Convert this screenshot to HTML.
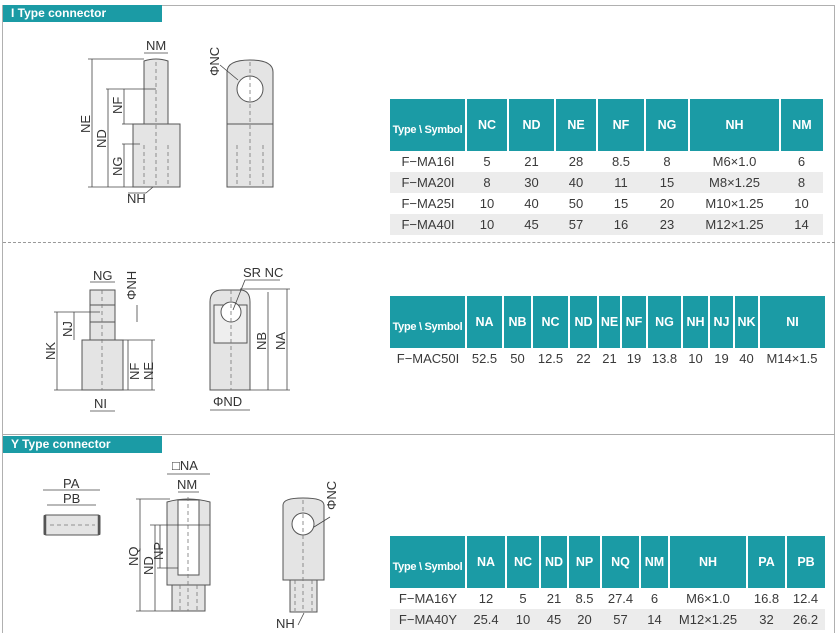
<!DOCTYPE html>
<html style="height:633px;overflow:hidden"><head><meta charset="utf-8"><style>
body{margin:0;width:840px;height:633px;background:#fff;position:relative;overflow:hidden;font-family:"Liberation Sans",sans-serif}
.frame{position:absolute;left:2px;top:5px;width:833px;height:628px;border:1px solid #b0b0b0;border-bottom:none;box-sizing:border-box}
.hdr{position:absolute;left:3px;width:159px;height:17px;background:#1b9ba5;color:#fff;font-weight:bold;font-size:12px;line-height:17px;padding-left:8px;box-sizing:border-box}
table{position:absolute;border-collapse:collapse;table-layout:fixed;font-size:13px;color:#3a3a3a}
th{background:#1b9ba5;color:#fff;font-weight:bold;font-size:12.5px;height:42px;padding:0;border-left:2px solid #fff;text-align:center;vertical-align:middle}
th:first-child{border-left:none;font-size:11px;letter-spacing:-0.3px;padding-top:10px}
td{text-align:center;padding:0;height:21px}
tr.g td{background:#ececec}
svg{position:absolute;left:0;top:0}
</style></head><body>
<div class="frame"></div>
<div style="position:absolute;left:3px;top:242px;width:832px;border-top:1px dashed #999"></div>
<div style="position:absolute;left:3px;top:434px;width:832px;border-top:1px solid #aaa"></div>
<div class="hdr" style="top:5px">I Type connector</div>
<div class="hdr" style="top:436px">Y Type connector</div>

<table style="left:390px;top:99px;width:433px">
<colgroup><col style="width:76px"><col style="width:42px"><col style="width:47px"><col style="width:42px"><col style="width:48px"><col style="width:44px"><col style="width:91px"><col style="width:43px"></colgroup>
<tr><th>Type \ Symbol</th><th>NC</th><th>ND</th><th>NE</th><th>NF</th><th>NG</th><th>NH</th><th>NM</th></tr>
<tr><td>F−MA16I</td><td>5</td><td>21</td><td>28</td><td>8.5</td><td>8</td><td>M6×1.0</td><td>6</td></tr>
<tr class="g"><td>F−MA20I</td><td>8</td><td>30</td><td>40</td><td>11</td><td>15</td><td>M8×1.25</td><td>8</td></tr>
<tr><td>F−MA25I</td><td>10</td><td>40</td><td>50</td><td>15</td><td>20</td><td>M10×1.25</td><td>10</td></tr>
<tr class="g"><td>F−MA40I</td><td>10</td><td>45</td><td>57</td><td>16</td><td>23</td><td>M12×1.25</td><td>14</td></tr>
</table>

<table style="left:390px;top:296px;width:435px">
<colgroup><col style="width:76px"><col style="width:37px"><col style="width:29px"><col style="width:37px"><col style="width:29px"><col style="width:23px"><col style="width:26px"><col style="width:35px"><col style="width:27px"><col style="width:25px"><col style="width:25px"><col style="width:66px"></colgroup>
<tr><th>Type \ Symbol</th><th>NA</th><th>NB</th><th>NC</th><th>ND</th><th>NE</th><th>NF</th><th>NG</th><th>NH</th><th>NJ</th><th>NK</th><th>NI</th></tr>
<tr><td>F−MAC50I</td><td>52.5</td><td>50</td><td>12.5</td><td>22</td><td>21</td><td>19</td><td>13.8</td><td>10</td><td>19</td><td>40</td><td>M14×1.5</td></tr>
</table>

<table style="left:390px;top:536px;width:435px">
<colgroup><col style="width:76px"><col style="width:40px"><col style="width:34px"><col style="width:28px"><col style="width:33px"><col style="width:39px"><col style="width:29px"><col style="width:78px"><col style="width:39px"><col style="width:39px"></colgroup>
<tr><th>Type \ Symbol</th><th>NA</th><th>NC</th><th>ND</th><th>NP</th><th>NQ</th><th>NM</th><th>NH</th><th>PA</th><th>PB</th></tr>
<tr><td>F−MA16Y</td><td>12</td><td>5</td><td>21</td><td>8.5</td><td>27.4</td><td>6</td><td>M6×1.0</td><td>16.8</td><td>12.4</td></tr>
<tr class="g"><td>F−MA40Y</td><td>25.4</td><td>10</td><td>45</td><td>20</td><td>57</td><td>14</td><td>M12×1.25</td><td>32</td><td>26.2</td></tr>
</table>

<svg width="840" height="633" viewBox="0 0 840 633" font-family="Liberation Sans, sans-serif" font-size="13" fill="#333">
<g stroke="#555" stroke-width="1" fill="#e4e4e4">
<path d="M144 124 V61 Q156 57 168 61 V124 Z"/>
<rect x="133" y="124" width="47" height="63"/>
<path d="M227 187 V72 Q227 60 250 60 Q273 60 273 72 V187 Z"/>
<circle cx="250" cy="89" r="13" fill="#fff"/>
<line x1="227" y1="124" x2="273" y2="124"/>
<rect x="90" y="290" width="25" height="52"/>
<rect x="82" y="340" width="41" height="50"/>
<rect x="90" y="305" width="25" height="17"/>
<path d="M210 390 V302 Q210 290 222 290 H240 Q250 290 250 302 V390 Z"/>
<rect x="214" y="305" width="33" height="38" fill="#eee"/>
<circle cx="231" cy="312" r="10" fill="#fff"/>
<rect x="44" y="515" width="56" height="20" rx="2"/>
<rect x="172" y="583" width="33" height="28"/>
<path d="M167 585 V502 Q188 496 210 502 V585 Z"/>
<rect x="178" y="500" width="21" height="75" fill="#fff"/>
<rect x="290" y="578" width="27" height="34"/>
<path d="M283 580 V505 Q283 498 303 498 Q324 498 324 505 V580 Z"/>
<circle cx="303" cy="524" r="11" fill="#fff"/>
</g>
<g stroke="#555" stroke-width="2.5"><line x1="45" y1="515" x2="45" y2="535"/><line x1="99" y1="515" x2="99" y2="535"/></g>
<g stroke="#777" stroke-width="0.8" stroke-dasharray="4 3" fill="none">
<line x1="156" y1="62" x2="156" y2="186"/><line x1="250" y1="62" x2="250" y2="186"/>
<line x1="144" y1="145" x2="144" y2="186"/><line x1="168" y1="145" x2="168" y2="186"/>
<line x1="237" y1="145" x2="237" y2="186"/><line x1="263" y1="145" x2="263" y2="186"/>
<line x1="102" y1="290" x2="102" y2="390"/><line x1="231" y1="290" x2="231" y2="390"/>
<line x1="50" y1="525" x2="95" y2="525"/><line x1="188" y1="497" x2="188" y2="611"/>
<line x1="303" y1="500" x2="303" y2="611"/>
<line x1="180" y1="585" x2="180" y2="611"/><line x1="197" y1="585" x2="197" y2="611"/>
<line x1="295" y1="580" x2="295" y2="611"/><line x1="312" y1="580" x2="312" y2="611"/>
</g>
<g stroke="#444" stroke-width="0.8" fill="none">
<line x1="144" y1="53" x2="168" y2="53"/><line x1="88" y1="59" x2="144" y2="59"/>
<line x1="92" y1="59" x2="92" y2="187"/><line x1="88" y1="187" x2="133" y2="187"/>
<line x1="106" y1="89" x2="156" y2="89"/><line x1="108" y1="89" x2="108" y2="187"/>
<line x1="124" y1="89" x2="124" y2="124"/><line x1="122" y1="124" x2="133" y2="124"/>
<line x1="122" y1="144" x2="140" y2="144"/><line x1="124" y1="144" x2="124" y2="187"/>
<line x1="146" y1="193" x2="153" y2="187"/><line x1="128" y1="193" x2="146" y2="193"/>
<line x1="220" y1="65" x2="238" y2="80"/>
<line x1="90" y1="282" x2="115" y2="282"/><line x1="137" y1="305" x2="137" y2="322"/>
<line x1="57" y1="312" x2="57" y2="390"/><line x1="74" y1="312" x2="74" y2="340"/>
<line x1="54" y1="312" x2="100" y2="312"/><line x1="54" y1="390" x2="82" y2="390"/>
<line x1="128" y1="340" x2="128" y2="390"/><line x1="152" y1="340" x2="152" y2="390"/>
<line x1="123" y1="390" x2="155" y2="390"/><line x1="123" y1="340" x2="155" y2="340"/>
<line x1="90" y1="411" x2="115" y2="411"/>
<line x1="268" y1="292" x2="268" y2="390"/><line x1="287" y1="289" x2="287" y2="390"/>
<line x1="250" y1="390" x2="290" y2="390"/><line x1="240" y1="289" x2="290" y2="289"/>
<line x1="210" y1="410" x2="250" y2="410"/><line x1="233" y1="310" x2="245" y2="280"/>
<line x1="245" y1="280" x2="280" y2="280"/>
<line x1="43" y1="490" x2="100" y2="490"/><line x1="47" y1="505" x2="96" y2="505"/>
<line x1="167" y1="474" x2="210" y2="474"/><line x1="178" y1="492" x2="199" y2="492"/>
<line x1="140" y1="499" x2="140" y2="611"/><line x1="155" y1="525" x2="155" y2="611"/>
<line x1="160" y1="525" x2="160" y2="568"/><line x1="136" y1="611" x2="172" y2="611"/>
<line x1="136" y1="499" x2="170" y2="499"/><line x1="150" y1="525" x2="210" y2="525"/>
<line x1="157" y1="568" x2="178" y2="568"/>
<line x1="314" y1="527" x2="330" y2="517"/><line x1="298" y1="625" x2="304" y2="613"/>
</g>
<g font-size="13">
<text x="146" y="50">NM</text>
<text transform="translate(90,133) rotate(-90)">NE</text>
<text transform="translate(106,148) rotate(-90)">ND</text>
<text transform="translate(122,114) rotate(-90)">NF</text>
<text transform="translate(122,176) rotate(-90)">NG</text>
<text x="127" y="203">NH</text>
<text transform="translate(219,76) rotate(-90)">ΦNC</text>
<text x="93" y="280">NG</text>
<text transform="translate(136,300) rotate(-90)">ΦNH</text>
<text transform="translate(55,360) rotate(-90)">NK</text>
<text transform="translate(72,337) rotate(-90)">NJ</text>
<text transform="translate(139,380) rotate(-90)">NF</text>
<text transform="translate(153,380) rotate(-90)">NE</text>
<text x="94" y="408">NI</text>
<text x="243" y="277">SR NC</text>
<text transform="translate(266,350) rotate(-90)">NB</text>
<text transform="translate(285,350) rotate(-90)">NA</text>
<text x="213" y="406">ΦND</text>
<text x="63" y="488">PA</text>
<text x="63" y="503">PB</text>
<text x="172" y="470">□NA</text>
<text x="177" y="489">NM</text>
<text transform="translate(138,566) rotate(-90)">NQ</text>
<text transform="translate(153,575) rotate(-90)">ND</text>
<text transform="translate(163,560) rotate(-90)">NP</text>
<text transform="translate(336,510) rotate(-90)">ΦNC</text>
<text x="276" y="628">NH</text>
</g>
</svg>
</body></html>
